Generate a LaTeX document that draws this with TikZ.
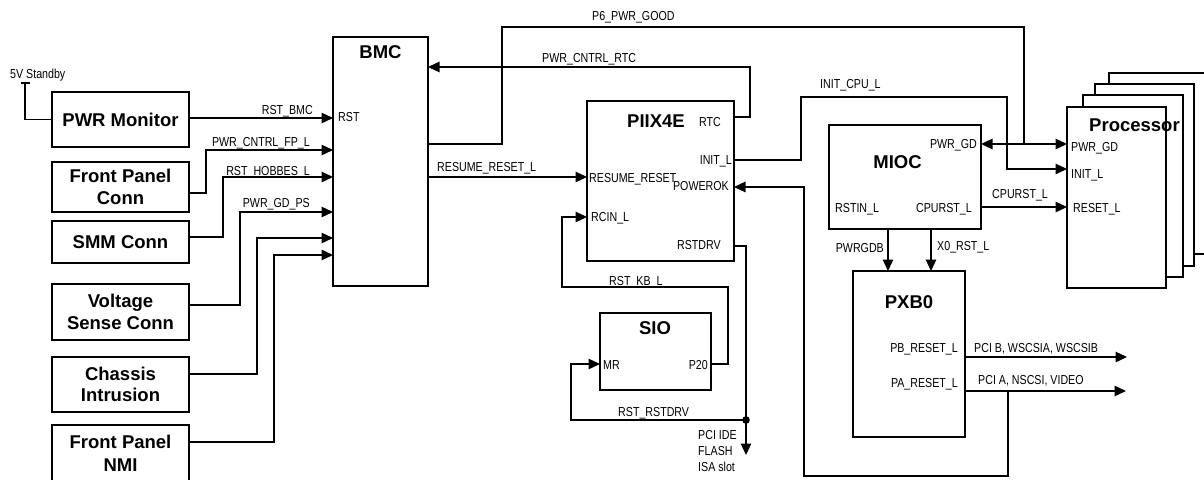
\documentclass[tikz,border=0pt]{standalone}
\usepackage{fontspec}
\setmainfont{Liberation Sans}
\newfontfamily\narrowfnt[FakeStretch=0.82]{Liberation Sans}
\usetikzlibrary{arrows.meta}
\begin{document}
\begin{tikzpicture}[x=1pt,y=-1pt,
 box/.style={draw,line width=1.3pt,fill=white,inner sep=0pt,outer sep=0pt,anchor=north west,align=center,font=\fontsize{18.5}{21.5}\selectfont\bfseries},
 ttl/.style={inner sep=0pt,anchor=base,font=\fontsize{18.5}{21.5}\selectfont\bfseries},
 lbl/.style={inner sep=0pt,font=\narrowfnt\fontsize{13}{15}\selectfont},
 lw/.style={lbl,anchor=base west},
 le/.style={lbl,anchor=base east},
 wire/.style={line width=1.3pt},
 arr/.style={wire,-{Triangle[length=11.5pt,width=10.5pt]}},
 darr/.style={wire,{Triangle[length=11.5pt,width=10.5pt]}-{Triangle[length=11.5pt,width=10.5pt]}}]
\useasboundingbox (0,0) rectangle (1204,479);
\clip (0,0) rectangle (1204,479);
\fill[white] (0,0) rectangle (1204,479);

% ---- boxes
\node[box,minimum width=137pt,minimum height=55pt] (pwrmon) at (52,92) {PWR Monitor};
\node[box,minimum width=137pt,minimum height=50pt] (fpconn) at (52,162) {Front Panel\\Conn};
\node[box,minimum width=137pt,minimum height=42pt] (smm) at (52,221) {SMM Conn};
\node[box,minimum width=137pt,minimum height=56pt] (vsense) at (52,284) {Voltage\\Sense Conn};
\node[box,minimum width=137pt,minimum height=55pt] (chassis) at (52,357) {Chassis\\Intrusion};
\node[box,minimum width=137pt,minimum height=70pt] (fpnmi) at (52,425) {};
\node[ttl] (fpnmit) at (120.5,448) {Front Panel};
\node[ttl] (fpnmit2) at (120.5,471) {NMI};
\node[box,minimum width=95pt,minimum height=249pt] (bmc) at (333,37) {};
\node[box,minimum width=147pt,minimum height=160pt] (piix) at (587,101) {};
\node[box,minimum width=111pt,minimum height=77pt] (sio) at (600,313) {};
\node[box,minimum width=152pt,minimum height=104pt] (mioc) at (829,125) {};
\node[box,minimum width=112pt,minimum height=166pt] (pxb) at (853,271) {};
\node[box,minimum width=100pt,minimum height=181pt] (proc4) at (1109,73) {};
\node[box,minimum width=99pt,minimum height=182pt] (proc3) at (1095,84) {};
\node[box,minimum width=100pt,minimum height=182pt] (proc2) at (1083,95) {};
\node[box,minimum width=99pt,minimum height=181pt] (proc) at (1067,107) {};

% ---- titles
\node[ttl] (bmct) at (380.5,58) {BMC};
\node[ttl] (piixt) at (656,127) {PIIX4E};
\node[ttl] (siot) at (655,334) {SIO};
\node[ttl] (miocT) at (897.5,168) {MIOC};
\node[ttl] (pxbt) at (909,308) {PXB0};
\node[ttl,anchor=base west] (proct) at (1089,131) {Processor};

% ---- pin coordinates
\coordinate (v5t) at (25,83);
\coordinate (pm-o) at (189,118);
\coordinate (fp-o) at (189,193);
\coordinate (smm-o) at (189,237);
\coordinate (vs-o) at (189,305);
\coordinate (ch-o) at (189,374);
\coordinate (nmi-o) at (189,442);
\coordinate (bmc-i1) at (333,118);
\coordinate (bmc-i2) at (333,150);
\coordinate (bmc-i3) at (333,177);
\coordinate (bmc-i4) at (333,212);
\coordinate (bmc-i5) at (333,238);
\coordinate (bmc-i6) at (333,255);
\coordinate (bmc-rtc) at (428,67);
\coordinate (bmc-p6) at (428,144);
\coordinate (bmc-rr) at (428,177);
\coordinate (pgtop) at (1024,27);
\coordinate (pgj) at (1024,144);
\coordinate (piix-rtc) at (734,117);
\coordinate (piix-init) at (734,160);
\coordinate (piix-pok) at (734,187);
\coordinate (piix-rd) at (734,246);
\coordinate (piix-rr) at (587,177);
\coordinate (piix-rcin) at (587,217);
\coordinate (initc) at (1007,97);
\coordinate (mioc-pg) at (981,144);
\coordinate (mioc-cr) at (981,207);
\coordinate (mioc-b1) at (888,229);
\coordinate (mioc-b2) at (931,229);
\coordinate (pxb-t1) at (888,271);
\coordinate (pxb-t2) at (931,271);
\coordinate (proc-pg) at (1067,144);
\coordinate (proc-init) at (1067,169);
\coordinate (proc-rst) at (1067,207);
\coordinate (pxb-pb) at (965,357);
\coordinate (pxb-pa) at (965,391);
\coordinate (pb-end) at (1127,357);
\coordinate (pa-end) at (1126,391);
\coordinate (pa-j) at (1008,391);
\coordinate (pok-c) at (804,476);
\coordinate (sio-p20) at (711,364);
\coordinate (sio-mr) at (600,364);
\coordinate (kbc) at (562,287);
\coordinate (dot) at (746,420);
\coordinate (mrb) at (571,420);
\coordinate (bus-end) at (746,455);

% ---- connectors
\draw[wire] (21,83) -- (30,83);
\draw[wire] (v5t) |- (pwrmon.west);
\draw[arr] (pm-o) -- (bmc-i1);
\draw[arr] (fp-o) -- ++(17,0) |- (bmc-i2);
\draw[arr] (smm-o) -- ++(34,0) |- (bmc-i3);
\draw[arr] (vs-o) -- ++(51,0) |- (bmc-i4);
\draw[arr] (ch-o) -- ++(68,0) |- (bmc-i5);
\draw[arr] (nmi-o) -- ++(85,0) |- (bmc-i6);
\draw[arr] (piix-rtc) -- ++(16,0) |- (bmc-rtc);
\draw[wire] (bmc-p6) -- ++(74,0) |- (pgtop) -- (pgj);
\draw[arr] (bmc-rr) -- (piix-rr);
\draw[darr] (mioc-pg) -- (proc-pg);
\draw[arr] (piix-init) -- ++(67,0) |- (initc) |- (proc-init);
\draw[arr] (mioc-cr) -- (proc-rst);
\draw[arr] (mioc-b1) -- (pxb-t1);
\draw[arr] (mioc-b2) -- (pxb-t2);
\draw[arr] (pxb-pb) -- (pb-end);
\draw[arr] (pxb-pa) -- (pa-end);
\draw[arr] (pa-j) |- (pok-c) |- (piix-pok);
\draw[arr] (sio-p20) -- ++(17,0) |- (kbc) |- (piix-rcin);
\draw[arr] (piix-rd) -- ++(12,0) -- (dot) -- (bus-end);
\draw[arr] (dot) -- (mrb) |- (sio-mr);
\fill (dot) circle (3.8pt);

% ---- labels
\node[lw] (v5) at (10,78) {5V Standby};
\node[le] (l-rstbmc) at (313,114) {RST\_BMC};
\node[lw] (p-rst) at (338,121) {RST};
\node[le] (l-fp) at (310,146) {PWR\_CNTRL\_FP\_L};
\node[le] (l-hob) at (310,175) {RST\_HOBBES\_L};
\node[le] (l-gdps) at (310,207) {PWR\_GD\_PS};
\node[lw] (l-p6) at (592,20) {P6\_PWR\_GOOD};
\node[lw] (l-rtc) at (542,62) {PWR\_CNTRL\_RTC};
\node[lw] (l-rr) at (437,171) {RESUME\_RESET\_L};
\node[lw] (p-rr) at (589,182) {RESUME\_RESET};
\node[le] (p-pok) at (729,190) {POWEROK};
\node[lw] (p-rtc) at (699,126) {RTC};
\node[le] (p-init) at (732,164) {INIT\_L};
\node[lw] (p-rcin) at (591,221) {RCIN\_L};
\node[le] (p-rd) at (721,249) {RSTDRV};
\node[lw] (l-kb) at (609,285) {RST\_KB\_L};
\node[lw] (p-mr) at (603,369) {MR};
\node[le] (p-p20) at (708,369) {P20};
\node[lw] (l-rrd) at (618,416) {RST\_RSTDRV};
\node[lw] (l-bus1) at (698,439) {PCI IDE};
\node[lw] (l-bus2) at (698,455) {FLASH};
\node[lw] (l-bus3) at (698,471) {ISA slot};
\node[lw] (l-icpu) at (820,88) {INIT\_CPU\_L};
\node[le] (p-mpg) at (977,148) {PWR\_GD};
\node[lw] (p-ppg) at (1071,151) {PWR\_GD};
\node[lw] (p-pinit) at (1071,178) {INIT\_L};
\node[lw] (l-cpurst) at (992,198) {CPURST\_L};
\node[lw] (p-prst) at (1073,212) {RESET\_L};
\node[lw] (p-rstin) at (835,212) {RSTIN\_L};
\node[le] (p-mcr) at (972,212) {CPURST\_L};
\node[le] (l-pwrgdb) at (884,252) {PWRGDB};
\node[lw] (l-x0) at (937,250) {X0\_RST\_L};
\node[le] (p-pb) at (958,352) {PB\_RESET\_L};
\node[le] (p-pa) at (958,387) {PA\_RESET\_L};
\node[lw] (l-pb) at (974,352) {PCI B, WSCSIA, WSCSIB};
\node[lw] (l-pa) at (978,384) {PCI A, NSCSI, VIDEO};
\end{tikzpicture}
\end{document}
